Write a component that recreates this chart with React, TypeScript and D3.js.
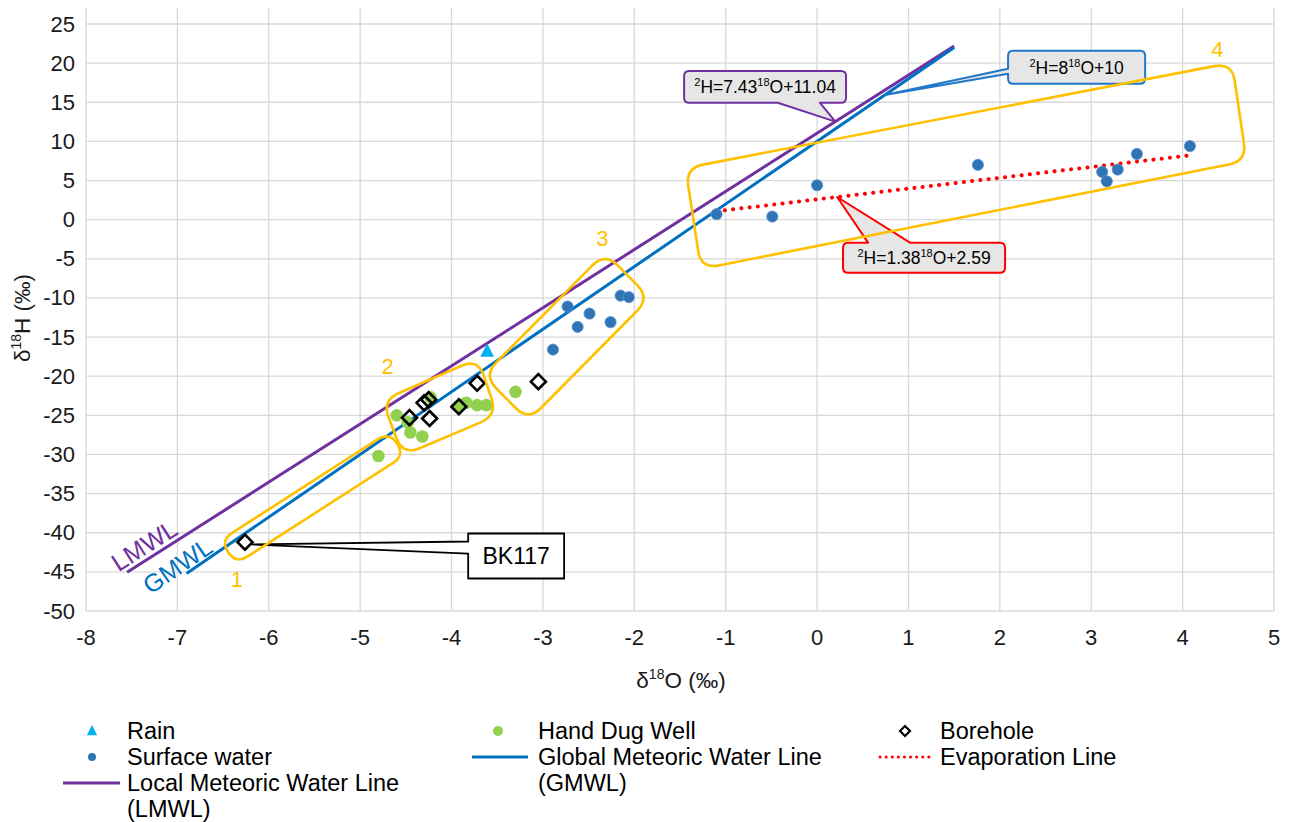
import React from 'react'
import * as d3 from 'd3'

// ---- data ----
const xTicks = [-8, -7, -6, -5, -4, -3, -2, -1, 0, 1, 2, 3, 4, 5]
const yTicks = [-50, -45, -40, -35, -30, -25, -20, -15, -10, -5, 0, 5, 10, 15, 20, 25]

const rain: [number, number][] = [[-3.61, -16.8]]

const surfaceWater: [number, number][] = [
    [-2.89, -16.6], [-2.73, -11.1], [-2.62, -13.7], [-2.49, -12.0], [-2.26, -13.1],
    [-2.15, -9.7], [-2.06, -9.9],
    [-1.1, 0.7], [-0.49, 0.4], [0.0, 4.4], [1.76, 7.0], [3.12, 6.1], [3.17, 4.9],
    [3.29, 6.4], [3.5, 8.4], [4.08, 9.4],
]

const handDugWell: [number, number][] = [
    [-4.8, -30.2], [-4.6, -25.0], [-4.48, -25.9], [-4.45, -27.2], [-4.32, -27.7],
    [-4.23, -22.7], [-3.92, -23.8], [-3.84, -23.4], [-3.72, -23.7], [-3.62, -23.7],
    [-3.3, -22.0],
]

const borehole: [number, number][] = [
    [-6.26, -41.2], [-4.46, -25.3], [-4.3, -23.4], [-4.25, -23.0], [-4.24, -25.4],
    [-3.92, -23.9], [-3.72, -20.9], [-3.05, -20.7],
]

// regression lines (slope, intercept) and the x range drawn
const lmwl = { slope: 7.43, intercept: 11.04, from: -7.55, to: 1.5 }
const gmwl = { slope: 8, intercept: 10, from: -6.9, to: 1.5 }
const evap = { slope: 1.38, intercept: 2.59, from: -1.1, to: 4.12 }

// yellow grouping boxes (corners in data units) and their labels
const groups = [
    { label: '1', at: [-6.35, -46.0], corners: [[-6.53, -41.0], [-4.68, -27.1], [-4.51, -30.1], [-6.36, -44.0]] },
    { label: '2', at: [-4.7, -18.8], corners: [[-4.76, -23.1], [-3.71, -17.75], [-3.5, -25.0], [-4.53, -30.1]] },
    { label: '3', at: [-2.35, -2.4], corners: [[-2.32, -4.2], [-1.83, -10.0], [-3.16, -25.7], [-3.65, -19.9]] },
    { label: '4', at: [4.38, 21.8], corners: [[-1.44, 6.6], [4.54, 20.05], [4.7, 7.5], [-1.27, -6.3]] },
]

const COL = {
    lmwl: '#7030a0',
    gmwl: '#0070c0',
    evap: '#ff0000',
    rain: '#00b0f0',
    sw: '#2f75b5',
    hdw: '#92d050',
    box: '#ffc000',
    grid: '#d9d9d9',
}

const FONT = '"Liberation Sans", Arial, Helvetica, sans-serif'

type Part = [string, boolean]
const callouts = [
    { parts: [['2', true], ['H=7.43', false], ['18', true], ['O+11.04', false]] as Part[], color: COL.lmwl, fill: '#e7e6e6', r: 5,
        tip: [0.2, 7.43 * 0.2 + 11.04], box: [-1.455, 19.0, 0.317, 14.94], side: 'bottom', base: [-0.43, 0.03], size: 17.5 },
    { parts: [['2', true], ['H=8', false], ['18', true], ['O+10', false]] as Part[], color: '#1f78c8', fill: '#e7e6e6', r: 5,
        tip: [0.74, 8 * 0.74 + 10], box: [2.09, 21.58, 3.59, 17.37], side: 'left', base: [19.28, 18.65], size: 17.5 },
    { parts: [['2', true], ['H=1.38', false], ['18', true], ['O+2.59', false]] as Part[], color: COL.evap, fill: '#e7e6e6', r: 5,
        tip: [0.22, 1.38 * 0.22 + 2.59], box: [0.284, -2.94, 2.057, -6.77], side: 'top', base: [0.558, 1.017], size: 17.5 },
    { parts: [['BK117', false]] as Part[], color: '#000', fill: '#fff', r: 0,
        tip: [-6.18, -41.5], box: [-3.818, -40.1, -2.768, -45.85], side: 'left', base: [-41.12, -42.66], size: 23 },
]

// ---- helpers ----
function roundedPoly(pts: number[][], r: number) {
    const n = pts.length
    let d = ''
    for (let i = 0; i < n; i++) {
        const p0 = pts[(i - 1 + n) % n], p1 = pts[i], p2 = pts[(i + 1) % n]
        const l1 = Math.hypot(p0[0] - p1[0], p0[1] - p1[1])
        const l2 = Math.hypot(p2[0] - p1[0], p2[1] - p1[1])
        const rr = Math.min(r, l1 / 2, l2 / 2)
        const a = [p1[0] + (p0[0] - p1[0]) / l1 * rr, p1[1] + (p0[1] - p1[1]) / l1 * rr]
        const b = [p1[0] + (p2[0] - p1[0]) / l2 * rr, p1[1] + (p2[1] - p1[1]) / l2 * rr]
        d += `${i === 0 ? 'M' : 'L'}${a[0]},${a[1]}Q${p1[0]},${p1[1]} ${b[0]},${b[1]}`
    }
    return d + 'Z'
}

function calloutPath(x0: number, y0: number, x1: number, y1: number, r: number, side: string,
    b1: number, b2: number, tx: number, ty: number) {
    const lo = Math.min(b1, b2), hi = Math.max(b1, b2)
    let d = `M${x0 + r},${y0}`
    if (side === 'top') d += `L${lo},${y0}L${tx},${ty}L${hi},${y0}`
    d += `L${x1 - r},${y0}Q${x1},${y0} ${x1},${y0 + r}`
    d += `L${x1},${y1 - r}Q${x1},${y1} ${x1 - r},${y1}`
    if (side === 'bottom') d += `L${hi},${y1}L${tx},${ty}L${lo},${y1}`
    d += `L${x0 + r},${y1}Q${x0},${y1} ${x0},${y1 - r}`
    if (side === 'left') d += `L${x0},${hi}L${tx},${ty}L${x0},${lo}`
    d += `L${x0},${y0 + r}Q${x0},${y0} ${x0 + r},${y0}Z`
    return d
}

function RichText({ parts, size, x, y, anchor = 'middle', fill = '#000' }:
    { parts: Part[], size: number, x: number, y: number, anchor?: string, fill?: string }) {
    const sup = Math.round(size * 0.63)
    const shift = Math.round(size * 0.4)
    let raised = false
    return (
        <text x={x} y={y} fontSize={size} textAnchor={anchor} fill={fill} fontFamily={FONT}>
            {parts.map(([t, s], i) => {
                let dy = 0
                if (s && !raised) { dy = -shift; raised = true }
                else if (!s && raised) { dy = shift; raised = false }
                return <tspan key={i} dy={dy} fontSize={s ? sup : size}>{t}</tspan>
            })}
        </text>
    )
}

const diamond = (cx: number, cy: number, h: number) => `M${cx},${cy - h}L${cx + h},${cy}L${cx},${cy + h}L${cx - h},${cy}Z`
const triangle = (cx: number, cy: number, h: number) => `M${cx},${cy - h}L${cx + h * 0.85},${cy + h * 0.7}L${cx - h * 0.85},${cy + h * 0.7}Z`

export default function App() {
    const W = 1290, H = 822
    const x = d3.scaleLinear().domain([-8, 5]).range([86, 1274])
    const y = d3.scaleLinear().domain([-50, 25]).range([611, 24])
    const plotTop = 8

    const lineOf = (l: { slope: number, intercept: number, from: number, to: number }) =>
        d3.line<number>().x(v => x(v)).y(v => y(l.slope * v + l.intercept))([l.from, l.to]) as string

    const slopeAngle = (m: number) => Math.atan2(-(y(m) - y(0)), x(1) - x(0)) * 180 / Math.PI

    const legendRows = [731, 757, 783, 809]
    const col = [127, 538, 940]

    return (
        <svg width={W} height={H} style={{ position: 'absolute', left: 0, top: 0, background: '#fff' }} fontFamily={FONT}>
            {/* grid */}
            <g stroke={COL.grid} strokeWidth={1.3}>
                {xTicks.map(t => <line key={'gx' + t} x1={x(t)} x2={x(t)} y1={plotTop} y2={y(-50)} />)}
                {yTicks.map(t => <line key={'gy' + t} x1={x(-8)} x2={x(5)} y1={y(t)} y2={y(t)} />)}
            </g>
            {/* tick labels */}
            <g fontSize={22} fill="#1a1a1a">
                {xTicks.map(t => <text key={'tx' + t} x={x(t)} y={y(-50) + 26} textAnchor="middle" dominantBaseline="central">{t}</text>)}
                {yTicks.map(t => <text key={'ty' + t} x={x(-8) - 11} y={y(t)} textAnchor="end" dominantBaseline="central">{t}</text>)}
            </g>
            {/* axis titles */}
            <RichText parts={[['δ', false], ['18', true], ['O (‰)', false]]} size={22.5} x={681} y={688} fill="#1a1a1a" />
            <g transform="translate(30,318) rotate(-90)">
                <RichText parts={[['δ', false], ['18', true], ['H (‰)', false]]} size={22.5} x={0} y={0} fill="#1a1a1a" />
            </g>

            {/* meteoric and evaporation lines */}
            <path d={lineOf(lmwl)} stroke={COL.lmwl} strokeWidth={3} fill="none" />
            <path d={lineOf(gmwl)} stroke={COL.gmwl} strokeWidth={3} fill="none" />
            <path d={lineOf(evap)} stroke={COL.evap} strokeWidth={4} fill="none" strokeDasharray="0.1 8.2" strokeLinecap="round" />

            {/* points */}
            {surfaceWater.map((p, i) => <circle key={'sw' + i} cx={x(p[0])} cy={y(p[1])} r={5.6} fill={COL.sw} stroke="#5b8fd0" strokeWidth={0.8} />)}
            {handDugWell.map((p, i) => <circle key={'hd' + i} cx={x(p[0])} cy={y(p[1])} r={6.3} fill={COL.hdw} />)}
            {borehole.map((p, i) => <path key={'bh' + i} d={diamond(x(p[0]), y(p[1]), 7.5)} fill="none" stroke="#000" strokeWidth={2.6} strokeLinejoin="miter" />)}
            {rain.map((p, i) => <path key={'rn' + i} d={triangle(x(p[0]), y(p[1]), 8)} fill={COL.rain} />)}

            {/* callouts */}
            {callouts.map((c, i) => {
                const bx0 = x(c.box[0]), by0 = y(c.box[1]), bx1 = x(c.box[2]), by1 = y(c.box[3])
                const horiz = c.side === 'left'
                const b1 = horiz ? y(c.base[0]) : x(c.base[0])
                const b2 = horiz ? y(c.base[1]) : x(c.base[1])
                return (
                    <g key={'co' + i}>
                        <path d={calloutPath(bx0, by0, bx1, by1, c.r, c.side, b1, b2, x(c.tip[0]), y(c.tip[1]))}
                            fill={c.fill} stroke={c.color} strokeWidth={c.r ? 2 : 1.8} strokeLinejoin="round" />
                        <g transform={`translate(${(bx0 + bx1) / 2},${(by0 + by1) / 2 + c.size * 0.36})`}>
                            <RichText parts={c.parts} size={c.size} x={0} y={0} />
                        </g>
                    </g>
                )
            })}

            {/* yellow grouping boxes */}
            {groups.map(g => (
                <g key={'grp' + g.label}>
                    <path d={roundedPoly(g.corners.map(p => [x(p[0]), y(p[1])]), 18)} fill="none" stroke={COL.box} strokeWidth={2.6} />
                    <text x={x(g.at[0])} y={y(g.at[1])} fontSize={22} fill={COL.box} textAnchor="middle" dominantBaseline="central">{g.label}</text>
                </g>
            ))}

            {/* line labels */}
            <text transform={`translate(${x(-7.363)},${y(-41.6)}) rotate(${-slopeAngle(lmwl.slope)})`} fontSize={25} fill={COL.lmwl}
                textAnchor="middle" dominantBaseline="central">LMWL</text>
            <text transform={`translate(${x(-7.0)},${y(-44.2)}) rotate(${-slopeAngle(gmwl.slope)})`} fontSize={25} fill={COL.gmwl}
                textAnchor="middle" dominantBaseline="central">GMWL</text>

            {/* legend */}
            <g fontSize={23.5} fill="#000">
                <path d={triangle(92, legendRows[0], 6)} fill={COL.rain} />
                <text x={col[0]} y={legendRows[0]} dominantBaseline="central">Rain</text>
                <circle cx={92} cy={legendRows[1]} r={4} fill={COL.sw} />
                <text x={col[0]} y={legendRows[1]} dominantBaseline="central">Surface water</text>
                <line x1={63} x2={120} y1={legendRows[2]} y2={legendRows[2]} stroke={COL.lmwl} strokeWidth={3} />
                <text x={col[0]} y={legendRows[2]} dominantBaseline="central">Local Meteoric Water Line</text>
                <text x={col[0]} y={legendRows[3]} dominantBaseline="central">(LMWL)</text>

                <circle cx={498} cy={legendRows[0]} r={5} fill={COL.hdw} />
                <text x={col[1]} y={legendRows[0]} dominantBaseline="central">Hand Dug Well</text>
                <line x1={472} x2={528} y1={legendRows[1]} y2={legendRows[1]} stroke={COL.gmwl} strokeWidth={3} />
                <text x={col[1]} y={legendRows[1]} dominantBaseline="central">Global Meteoric Water Line</text>
                <text x={col[1]} y={legendRows[2]} dominantBaseline="central">(GMWL)</text>

                <path d={diamond(905, legendRows[0], 5)} fill="none" stroke="#000" strokeWidth={2.2} />
                <text x={col[2]} y={legendRows[0]} dominantBaseline="central">Borehole</text>
                <line x1={880} x2={933} y1={legendRows[1]} y2={legendRows[1]} stroke={COL.evap} strokeWidth={3} strokeDasharray="0.1 6" strokeLinecap="round" />
                <text x={col[2]} y={legendRows[1]} dominantBaseline="central">Evaporation Line</text>
            </g>
        </svg>
    )
}
